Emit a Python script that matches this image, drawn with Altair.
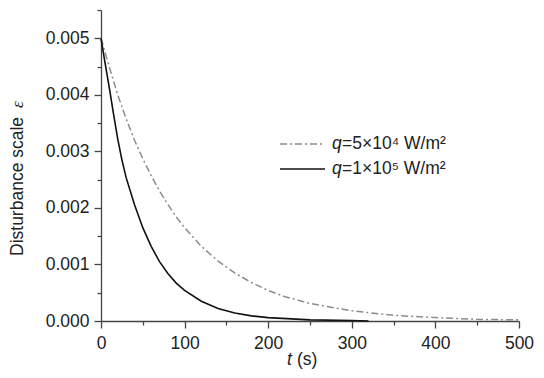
import altair as alt
import pandas as pd

# ---- data ----
t_dash = [0, 10, 20, 30, 40, 50, 60, 70, 80, 90, 100, 120, 140, 160, 180, 200,
          220, 250, 300, 350, 400, 450, 500]
eps_dash = [0.00500, 0.00449, 0.00400, 0.00358, 0.00320, 0.00287, 0.00257, 0.00230,
            0.00206, 0.00184, 0.00165, 0.00132, 0.00106, 0.00085, 0.00068, 0.00054,
            0.00043, 0.00031, 0.00018, 0.00010, 0.00006, 0.00003, 0.00002]

t_solid = [0, 5, 10, 15, 20, 25, 30, 40, 50, 60, 70, 80, 90, 100, 120, 140, 160,
           180, 200, 250, 300, 320]
eps_solid = [0.00500, 0.00455, 0.00412, 0.00366, 0.00322, 0.00285, 0.00254, 0.00206,
             0.00165, 0.00132, 0.00105, 0.00084, 0.00067, 0.00054, 0.00035, 0.00022,
             0.00014, 0.00009, 0.00006, 0.00002, 0.00001, 0.00000]

x_major = [0, 100, 200, 300, 400, 500]
x_minor = [50, 150, 250, 350, 450]
y_major = [0.000, 0.001, 0.002, 0.003, 0.004, 0.005]
y_minor = [0.0005, 0.0015, 0.0025, 0.0035, 0.0045, 0.0055]

label_dash = "=5×10⁴ W/m²"
label_solid = "=1×10⁵ W/m²"

FONT = "Liberation Sans"
FS = 17.5
AX = "#444444"

xs = alt.Scale(domain=[0, 500], nice=False, zero=False)
ys = alt.Scale(domain=[0, 0.0055], nice=False)

df_d = pd.DataFrame({"t": t_dash, "eps": eps_dash})
df_s = pd.DataFrame({"t": t_solid, "eps": eps_solid})

common = dict(title=None, grid=False, domainColor=AX, tickColor=AX, domainWidth=1.3,
              tickWidth=1.3, labelColor="#222222", labelFont=FONT, labelFontSize=FS,
              labelFlush=False, labelOverlap=False)

x_major_axis = alt.Axis(values=x_major, orient="bottom", tickSize=7, labelPadding=6,
                        format="d", **common)
y_major_axis = alt.Axis(values=y_major, orient="left", tickSize=7, labelPadding=5,
                        format=".3f", **common)
x_minor_axis = alt.Axis(values=x_minor, orient="bottom", tickSize=4, labels=False,
                        domain=False, title=None, grid=False, tickColor=AX, tickWidth=1.3)
y_minor_axis = alt.Axis(values=y_minor, orient="left", tickSize=4, labels=False,
                        domain=False, title=None, grid=False, tickColor=AX, tickWidth=1.3)

solid = alt.Chart(df_s).mark_line(color="#111111", strokeWidth=1.6).encode(
    x=alt.X("t:Q", scale=xs, axis=x_major_axis),
    y=alt.Y("eps:Q", scale=ys, axis=y_major_axis),
)
dashed = alt.Chart(df_d).mark_line(color="#8c8c8c", strokeWidth=1.5,
                                   strokeDash=[7, 3, 2, 3]).encode(
    x=alt.X("t:Q", scale=xs, axis=x_minor_axis),
    y=alt.Y("eps:Q", scale=ys, axis=y_minor_axis),
)

one = pd.DataFrame({"a": [0]})


def txt(text, x, y, **kw):
    params = dict(font=FONT, fontSize=FS, color="#222222", align="left",
                  baseline="middle")
    params.update(kw)
    return alt.Chart(one).mark_text(text=text, **params).encode(
        x=alt.value(x), y=alt.value(y))


# legend (drawn by hand)
leg_dash = alt.Chart(one).mark_rule(color="#8c8c8c", strokeWidth=1.5,
                                    strokeDash=[7, 3, 2, 3]).encode(
    x=alt.value(179), x2=alt.value(224), y=alt.value(134))
leg_solid = alt.Chart(one).mark_rule(color="#111111", strokeWidth=1.6).encode(
    x=alt.value(179), x2=alt.value(224), y=alt.value(159))

texts = [
    txt("q", 231, 134, fontStyle="italic"),
    txt(label_dash, 241, 134),
    txt("q", 231, 159, fontStyle="italic"),
    txt(label_solid, 241, 159),
    # x title
    txt("t", 186, 355, fontStyle="italic", baseline="alphabetic"),
    txt("(s)", 196, 355, baseline="alphabetic"),
    # y title
    txt("Disturbance scale", -83, 246, angle=270),
    txt("ε", -83, 98, angle=270, font="Liberation Serif", fontStyle="italic"),
]

chart = alt.layer(dashed, solid, leg_dash, leg_solid, *texts).resolve_axis(
    x="independent", y="independent"
).properties(
    width=418, height=311,
    padding={"left": 93, "top": 2, "right": 17, "bottom": 49},
    autosize=alt.AutoSizeParams(type="none"),
    background="white",
).configure_view(stroke=None)

chart.save("out.html", embed_options={"renderer": "svg", "actions": False})
